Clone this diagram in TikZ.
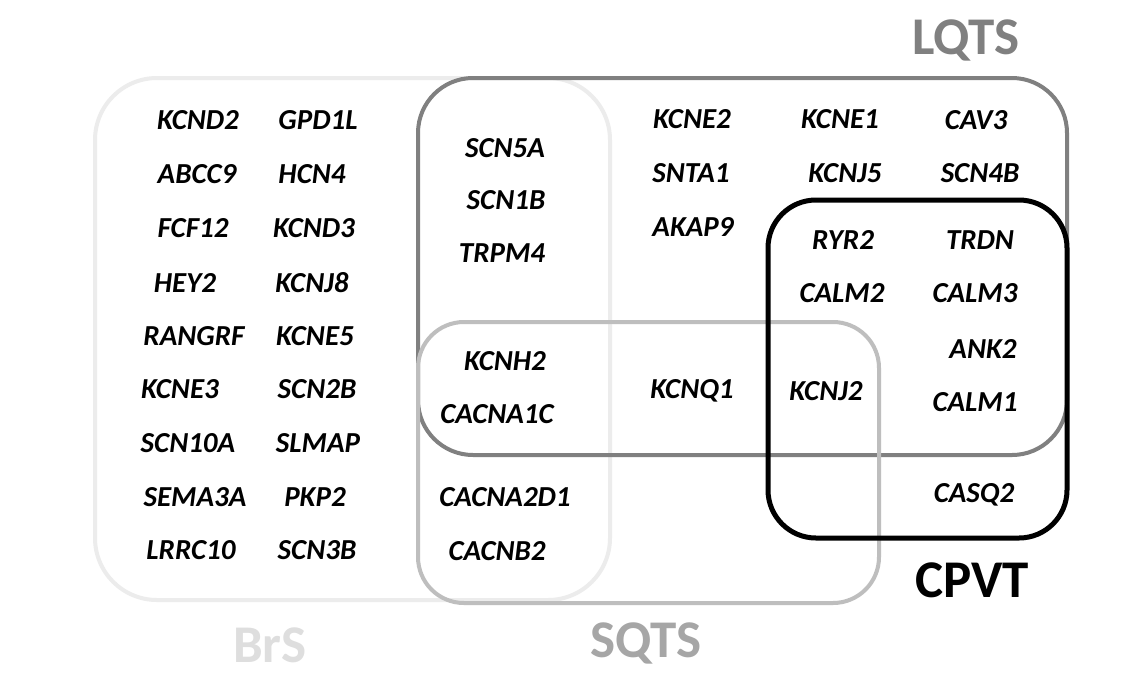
\documentclass[tikz,border=0pt]{standalone}
\usepackage{fontspec}
\setmainfont{Carlito}
\begin{document}
\begin{tikzpicture}[x=1pt,y=-1pt,
  gene/.style={font=\fontsize{29}{31}\selectfont\bfseries\itshape, text=black, inner sep=0pt, anchor=center},
  setlabel/.style={font=\fontsize{53}{56}\selectfont\bfseries, inner sep=0pt, anchor=center},
  setbox/.style={line width=4pt}]
\useasboundingbox[fill=white] (0,0) rectangle (1140,673);
% boxes
\draw[setbox, color={rgb,255:red,236;green,236;blue,236}, rounded corners=62pt] (95,78) rectangle (610,600);
\draw[setbox, color={rgb,255:red,128;green,128;blue,128}, rounded corners=55pt] (418,78) rectangle (1067,455);
\draw[setbox, color={rgb,255:red,190;green,190;blue,190}, rounded corners=46pt] (418,322) rectangle (879,603);
\draw[line width=5pt, black, rounded corners=48pt] (768,200) rectangle (1067,538);
% set labels
\node[setlabel, text={rgb,255:red,128;green,128;blue,128}] (lqts) at (966,40) {LQTS};
\node[setlabel, text=black] (cpvt) at (972,580) {CPVT};
\node[setlabel, text={rgb,255:red,222;green,222;blue,222}] (brs) at (270,645) {BrS};
\node[setlabel, text={rgb,255:red,166;green,166;blue,166}] (sqts) at (646,643) {SQTS};
% BrS genes col 1
\node[gene] (g1) at (198,120) {KCND2};
\node[gene] (g2) at (197,174) {ABCC9};
\node[gene] (g3) at (193,228) {FCF12};
\node[gene] (g4) at (185,283) {HEY2};
\node[gene] (g5) at (194,336) {RANGRF};
\node[gene] (g6) at (180,389) {KCNE3};
\node[gene] (g7) at (188,443) {SCN10A};
\node[gene] (g8) at (195,497) {SEMA3A};
\node[gene] (g9) at (191,550) {LRRC10};
% BrS genes col 2
\node[gene] (h1) at (318,120) {GPD1L};
\node[gene] (h2) at (312,174) {HCN4};
\node[gene] (h3) at (314,228) {KCND3};
\node[gene] (h4) at (312,283) {KCNJ8};
\node[gene] (h5) at (315,336) {KCNE5};
\node[gene] (h6) at (317,389) {SCN2B};
\node[gene] (h7) at (318,443) {SLMAP};
\node[gene] (h8) at (315,497) {PKP2};
\node[gene] (h9) at (317,550) {SCN3B};
% BrS & LQTS
\node[gene] (s1) at (505,148) {SCN5A};
\node[gene] (s2) at (506,200) {SCN1B};
\node[gene] (s3) at (502,253) {TRPM4};
% BrS & LQTS & SQTS
\node[gene] (s4) at (505,361) {KCNH2};
\node[gene] (s5) at (497,414) {CACNA1C};
% BrS & SQTS
\node[gene] (s6) at (505,497) {CACNA2D1};
\node[gene] (s7) at (497,551) {CACNB2};
% LQTS only
\node[gene] (l1) at (692,119) {KCNE2};
\node[gene] (l2) at (691,173) {SNTA1};
\node[gene] (l3) at (693,227) {AKAP9};
\node[gene] (l4) at (840,119) {KCNE1};
\node[gene] (l5) at (845,173) {KCNJ5};
\node[gene] (l6) at (976,120) {CAV3};
\node[gene] (l7) at (980,173) {SCN4B};
% LQTS & SQTS
\node[gene] (q1) at (692,391) {KCNQ1};
% LQTS & SQTS & CPVT
\node[gene] (q2) at (826,391) {KCNJ2};
% LQTS & CPVT
\node[gene] (c1) at (843,240) {RYR2};
\node[gene] (c2) at (980,240) {TRDN};
\node[gene] (c3) at (842,293) {CALM2};
\node[gene] (c4) at (975,293) {CALM3};
\node[gene] (c5) at (983,349) {ANK2};
\node[gene] (c6) at (975,402) {CALM1};
% CPVT only
\node[gene] (c7) at (974,495) {CASQ2};
\end{tikzpicture}
\end{document}
